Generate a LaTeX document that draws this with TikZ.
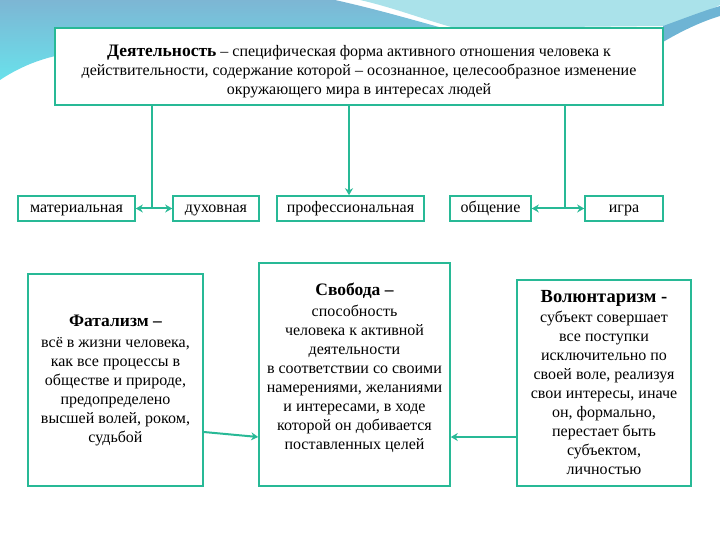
\documentclass[tikz,border=0pt]{standalone}
\usepackage{fontspec}
\setmainfont{Liberation Serif}
\usetikzlibrary{arrows.meta,calc}
\definecolor{bgreen}{RGB}{40,185,150}
\definecolor{bandtop}{RGB}{125,182,212}
\definecolor{bandbot}{RGB}{105,225,235}
\definecolor{bandlight}{RGB}{170,226,234}
\definecolor{banddark}{RGB}{110,180,212}
\newcommand{\ttl}[1]{{\fontsize{17.5}{19}\selectfont\bfseries #1}}
\begin{document}
\begin{tikzpicture}[x=1pt,y=-1pt,
 box/.style={draw=bgreen,line width=1.6pt,fill=white,align=center,inner sep=0pt,font=\fontsize{16}{19}\selectfont},
 kind/.style={box,minimum height=25pt,text height=11pt,text depth=4pt},
 conn/.style={draw=bgreen,line width=2pt},
 tip/.style={-{Stealth[length=7pt,width=8pt]}},
 dtip/.style={{Stealth[length=7pt,width=8pt]}-{Stealth[length=7pt,width=8pt]}}]
\useasboundingbox (0,0) rectangle (720,540);
% background decoration
\shade[top color=bandtop,bottom color=bandbot] (0,0) -- (335,0) .. controls (380,10) and (420,22) .. (450,30) -- (60,30) -- (60,55) .. controls (35,60) and (15,70) .. (0,80) -- cycle;
\fill[bandlight] (360,0) -- (720,0) -- (720,5) .. controls (700,15) and (680,22) .. (663,26) -- (455,28) .. controls (425,20) and (395,8) .. (360,0) -- cycle;
\fill[banddark] (663,26) .. controls (680,20) and (700,12) .. (720,6) -- (720,16) .. controls (700,22) and (680,32) .. (663,42) -- cycle;
% top box
\node[box,minimum width=608pt,minimum height=77pt] (top) at (359,66.5)
 {\rule{0pt}{22pt}\ttl{Деятельность} – специфическая форма активного отношения человека к\\
  действительности, содержание которой – осознанное, целесообразное изменение\\
  окружающего мира в интересах людей};
% row of kinds
\node[kind,minimum width=117pt] (mat) at (76.5,208.5) {материальная};
\node[kind,minimum width=86pt] (duh) at (216,208.5) {духовная};
\node[kind,minimum width=147pt] (prof) at (350.5,208.5) {профессиональная};
\node[kind,minimum width=81pt] (obsh) at (490.5,208.5) {общение};
\node[kind,minimum width=78pt] (igra) at (624,208.5) {игра};
\coordinate (j1) at (152,208.5);
\coordinate (j2) at (565,208.5);
\draw[conn] (top.south -| j1) -- (j1);
\draw[conn] (top.south -| j2) -- (j2);
\draw[conn,dtip] (mat.east) -- (duh.west);
\draw[conn,dtip] (obsh.east) -- (igra.west);
\draw[conn,tip] (top.south -| 349,0) -- (prof.north -| 349,0);
% lower boxes
\node[box,minimum width=175pt,minimum height=212pt] (fat) at (115.5,380)
 {\ttl{Фатализм –}\\[2pt]
  всё в жизни человека,\\ как все процессы в\\ обществе и природе,\\ предопределено\\ высшей волей, роком,\\ судьбой};
\node[box,minimum width=191pt,minimum height=223pt] (svob) at (354.5,374.5)
 {\ttl{Свобода –}\\[2pt]
  способность\\ человека к активной\\ деятельности\\ в соответствии со своими\\ намерениями, желаниями\\ и интересами, в ходе\\ которой он добивается\\ поставленных целей\rule[-16pt]{0pt}{0pt}};
\node[box,minimum width=174pt,minimum height=206pt] (vol) at (604,383)
 {{\fontsize{18.5}{19}\selectfont\bfseries Волюнтаризм -}\\[1pt]
  субъект совершает\\ все поступки\\ исключительно по\\ своей воле, реализуя\\ свои интересы, иначе\\ он, формально,\\ перестает быть\\ субъектом,\\ личностью};
\draw[conn,tip] ([yshift=-52pt]fat.east) -- ([yshift=-62.5pt]svob.west);
\draw[conn,tip] ([yshift=-54pt]vol.west) -- ([yshift=-62.5pt]svob.east);
\end{tikzpicture}
\end{document}
